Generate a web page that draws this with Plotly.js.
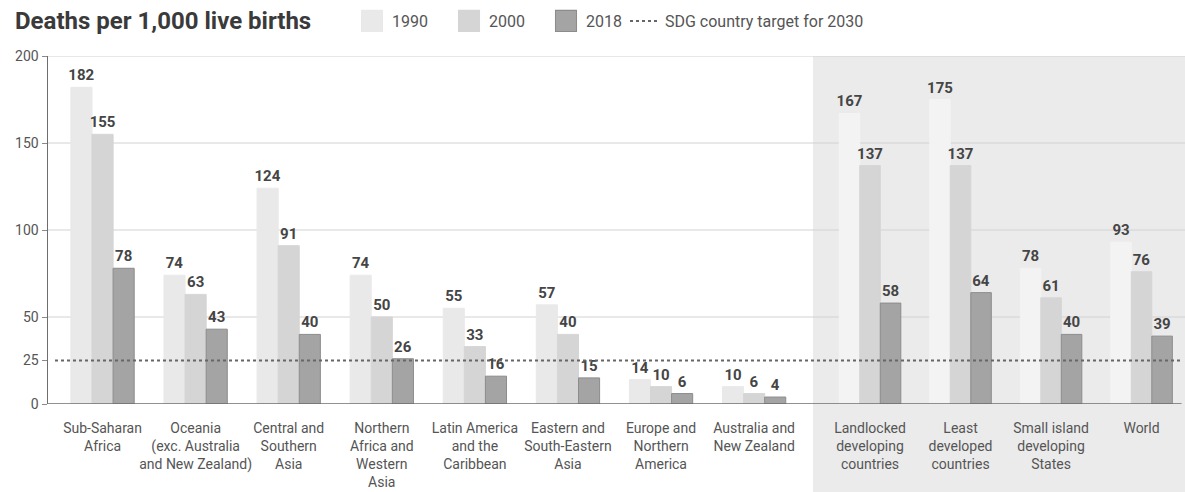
<!DOCTYPE html>
<html>
<head>
<meta charset="utf-8">
<script src="https://cdn.plot.ly/plotly-3.0.1.min.js"></script>
<style>
  html, body { margin: 0; padding: 0; background: #ffffff; }
  #chart { width: 1185px; height: 492px; }
</style>
</head>
<body>
<div id="chart"></div>
<script>
// Regions (left panel) and country groupings (shaded right panel)
const regions = [
  'Sub-Saharan<br>Africa',
  'Oceania<br>(exc. Australia<br>and New Zealand)',
  'Central and<br>Southern<br>Asia',
  'Northern<br>Africa and<br>Western<br>Asia',
  'Latin America<br>and the<br>Caribbean',
  'Eastern and<br>South-Eastern<br>Asia',
  'Europe and<br>Northern<br>America',
  'Australia and<br>New Zealand'
];
const groups = [
  'Landlocked<br>developing<br>countries',
  'Least<br>developed<br>countries',
  'Small island<br>developing<br>States',
  'World'
];

// Under-five deaths per 1,000 live births
const regions1990 = [182, 74, 124, 74, 55, 57, 14, 10];
const regions2000 = [155, 63, 91, 50, 33, 40, 10, 6];
const regions2018 = [78, 43, 40, 26, 16, 15, 6, 4];
const groups1990 = [167, 175, 78, 93];
const groups2000 = [137, 137, 61, 76];
const groups2018 = [58, 64, 40, 39];

const sdgTarget = 25;
const yTicks = [0, 25, 50, 100, 150, 200];
const gridLevels = [50, 100, 150, 200];

const FONT = 'Roboto, "Liberation Sans", sans-serif';
const colors = { '1990': '#e9e9e9', '2000': '#d5d5d5', '2018': '#a4a4a4' };
const colorsShaded = { '1990': '#f3f3f3', '2000': '#d5d5d5', '2018': '#a4a4a4' };

function barTrace(name, cats, vals, xa, palette, showLegend) {
  return {
    type: 'bar',
    name: name,
    x: cats,
    y: vals,
    xaxis: xa,
    yaxis: 'y',
    text: vals.map(String),
    textposition: 'outside',
    constraintext: 'none',
    cliponaxis: false,
    textfont: { family: FONT, size: 15, color: '#454545', weight: 'bold' },
    marker: {
      color: palette[name],
      line: { color: name === '2018' ? '#8c8c8c' : palette[name], width: 1 }
    },
    showlegend: showLegend,
    legendgroup: name,
    hoverinfo: 'skip'
  };
}

const traces = [
  barTrace('1990', regions, regions1990, 'x', colors, true),
  barTrace('2000', regions, regions2000, 'x', colors, true),
  barTrace('2018', regions, regions2018, 'x', colors, true),
  barTrace('1990', groups, groups1990, 'x2', colorsShaded, false),
  barTrace('2000', groups, groups2000, 'x2', colorsShaded, false),
  barTrace('2018', groups, groups2018, 'x2', colorsShaded, false)
];

// Paper geometry: plot area spans 48..1185 px horizontally, 56..404 px vertically
const W = 1185, H = 492, ML = 48, MR = 0, MT = 56, MB = 88;
const pw = W - ML - MR, ph = H - MT - MB;
const px = v => (v - ML) / pw;
const py = v => (H - MB - v) / ph;

const shapes = [
  // shaded panel behind the country groupings
  { type: 'rect', xref: 'paper', yref: 'paper', x0: px(813), x1: 1, y0: py(H), y1: 1,
    fillcolor: '#ebebeb', line: { width: 0 }, layer: 'below' }
];
gridLevels.forEach(g => shapes.push({
  type: 'line', xref: 'paper', yref: 'y', x0: 0, x1: 1, y0: g, y1: g,
  line: { color: '#d2d2d2', width: 1 }, layer: 'below'
}));
// baseline
shapes.push({ type: 'line', xref: 'paper', yref: 'y', x0: 0, x1: 0.997, y0: 0, y1: 0,
  line: { color: '#6e6e6e', width: 1.5 }, layer: 'above' });
// target line, listed in its own legend box
shapes.push({ type: 'line', xref: 'paper', yref: 'y', x0: px(55), x1: 0.997, y0: sdgTarget, y1: sdgTarget,
  line: { color: '#666666', width: 2, dash: 'dot' }, layer: 'above',
  showlegend: true, legend: 'legend2', name: 'SDG country target for 2030' });

const catAxis = {
  type: 'category', showgrid: false, zeroline: false, showline: false,
  ticks: 'outside', ticklen: 11, tickcolor: 'rgba(0,0,0,0)', tickangle: 0,
  tickfont: { family: FONT, size: 14, color: '#555555' }, anchor: 'y', fixedrange: true
};

const legendFont = { family: FONT, size: 16, color: '#555555' };

const layout = {
  width: W, height: H,
  margin: { l: ML, r: MR, t: MT, b: MB, pad: 0 },
  paper_bgcolor: '#ffffff',
  plot_bgcolor: 'rgba(0,0,0,0)',
  font: { family: FONT, size: 15, color: '#555555' },
  barmode: 'group',
  bargap: 0.32,
  bargroupgap: 0,
  showlegend: true,
  legend: {
    orientation: 'h', x: px(352), xanchor: 'left', y: py(21), yanchor: 'middle',
    font: legendFont, itemwidth: 30, entrywidth: 52, entrywidthmode: 'pixels',
    traceorder: 'normal', bgcolor: 'rgba(0,0,0,0)'
  },
  legend2: {
    orientation: 'h', x: px(625), xanchor: 'left', y: py(21), yanchor: 'middle',
    font: legendFont, itemwidth: 30, bgcolor: 'rgba(0,0,0,0)'
  },
  annotations: [{
    text: '<b>Deaths per 1,000 live births</b>',
    xref: 'paper', yref: 'paper', x: px(13), y: py(21), xanchor: 'left', yanchor: 'middle',
    showarrow: false, font: { family: FONT, size: 24, color: '#3a3a3a' }
  }],
  xaxis: Object.assign({}, catAxis, { domain: [0, px(796)], range: [-0.586, 7.45] }),
  xaxis2: Object.assign({}, catAxis, { domain: [px(813), 1], range: [-0.63, 3.48] }),
  yaxis: {
    range: [0, 200], tickvals: yTicks, ticktext: yTicks.map(String),
    showgrid: false, zeroline: false, showline: true, linecolor: '#6e6e6e', linewidth: 1.5,
    ticks: 'outside', ticklen: 5, tickcolor: '#8a8a8a', tickwidth: 1,
    tickfont: { family: FONT, size: 14, color: '#555555' }, fixedrange: true
  },
  shapes: shapes
};

// larger square swatches for the year entries of the legend, scaled about their centre
// (keeping whatever placement transform the legend already gave each swatch)
function enlargeSwatches(gd) {
  gd.querySelectorAll('g.legend g.traces').forEach(item => {
    const label = item.querySelector('text.legendtext');
    if (label && /^\d{4}$/.test(label.textContent.trim())) {
      item.querySelectorAll('g.legendpoints path').forEach(p => {
        if (p.dataset.enlarged) return;
        const b = p.getBBox();
        const cx = b.x + b.width / 2, cy = b.y + b.height / 2;
        const base = p.getAttribute('transform') || '';
        p.setAttribute('transform', base +
          ' translate(' + cx + ',' + cy + ') scale(1.75) translate(' + (-cx) + ',' + (-cy) + ')');
        p.style.strokeWidth = '0.6px';
        p.dataset.enlarged = '1';
      });
    }
  });
}

const chart = document.getElementById('chart');
Plotly.newPlot(chart, traces, layout, { displayModeBar: false, staticPlot: true }).then(gd => {
  enlargeSwatches(gd);
});
</script>
</body>
</html>
